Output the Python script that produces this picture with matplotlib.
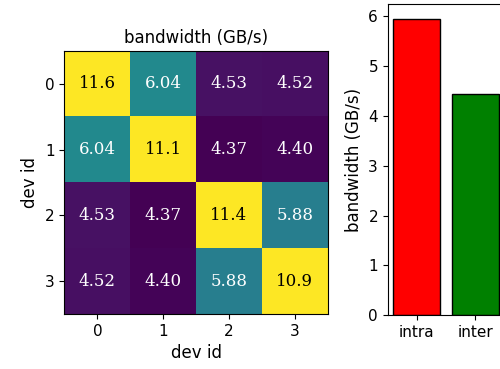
import numpy as np
import matplotlib
matplotlib.use("Agg")
import matplotlib.pyplot as plt

# ##### DATA #####
dev_ids = [0, 1, 2, 3]
bw = np.array([
    [11.6, 6.04, 4.53, 4.52],
    [6.04, 11.1, 4.37, 4.40],
    [4.53, 4.37, 11.4, 5.88],
    [4.52, 4.40, 5.88, 10.9],
])
bar_labels = ["intra", "inter"]
bar_values = [5.95, 4.45]
bar_colors = ["red", "green"]

# ##### PLOT #####
fig = plt.figure(figsize=(5.0, 3.69), dpi=100)

# heatmap
ax = fig.add_axes([0.128, 0.149, 0.528, 0.713])
ax.imshow(bw, cmap="viridis", vmin=bw.min(), vmax=7.9)
for i in range(len(dev_ids)):
    for j in range(len(dev_ids)):
        c = "k" if i == j else "w"
        ax.text(j, i, f"{bw[i, j]:#.3g}", ha="center", va="center",
                color=c, fontsize=12, family="DejaVu Serif")
ax.set_xticks(dev_ids)
ax.set_yticks(dev_ids)
ax.tick_params(labelsize=11)
ax.set_xlabel("dev id", fontsize=12)
ax.set_ylabel("dev id", fontsize=12)
ax.set_title("bandwidth (GB/s)", fontsize=12)

# bars (axes runs a bit past the right edge, like the original crop)
ax1 = fig.add_axes([0.7755, 0.146, 0.2324, 0.843])
ax1.bar(bar_labels, bar_values, color=bar_colors, edgecolor="k", width=0.8)
ax1.tick_params(labelsize=11)
ax1.set_ylabel("bandwidth (GB/s)", fontsize=12)

plt.savefig("out.png", dpi=100)
